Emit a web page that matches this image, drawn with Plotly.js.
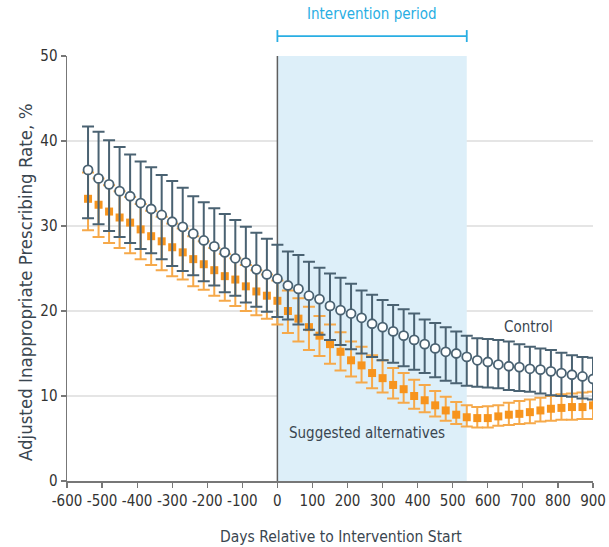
<!DOCTYPE html>
<html>
<head>
<meta charset="utf-8">
<script src="https://cdn.plot.ly/plotly-3.0.1.min.js"></script>
<style>html,body{margin:0;padding:0;background:#fff;}#chart{width:609px;height:547px;}</style>
</head>
<body>
<div id="chart"></div>
<script>
// Days relative to intervention start
var days = [-540,-510,-480,-450,-420,-390,-360,-330,-300,-270,-240,-210,-180,-150,-120,-90,-60,-30,0,
  30,60,90,120,150,180,210,240,270,300,330,360,390,420,450,480,510,540,570,
  600,630,660,690,720,750,780,810,840,870,900];

// Control group
var controlMean = [36.6,35.6,34.9,34.1,33.5,32.7,32.0,31.3,30.5,29.9,29.1,28.3,27.6,26.9,26.2,25.7,24.9,24.3,23.8,
  23.0,22.6,21.8,21.4,20.6,20.1,19.7,19.2,18.5,18.1,17.6,17.1,16.6,16.1,15.6,15.2,15.0,14.6,14.2,
  14.0,13.7,13.5,13.4,13.2,13.1,12.9,12.7,12.5,12.3,12.0];
var controlUpper = [41.7,41.1,40.1,39.3,38.4,37.6,36.9,36.0,35.3,34.5,33.5,32.8,32.1,31.4,30.7,29.9,29.2,28.5,27.8,
  27.0,26.6,25.8,25.1,24.4,23.9,23.2,22.4,21.9,21.3,20.7,20.2,19.7,19.0,18.6,18.1,17.6,17.1,16.8,
  16.7,16.6,16.4,16.1,15.8,15.6,15.4,15.1,14.8,14.6,14.5];
var controlLower = [30.9,30.2,29.4,28.7,28.0,27.3,26.8,26.1,25.3,24.7,24.2,23.5,23.0,22.2,21.8,21.0,20.5,19.9,19.3,
  19.0,18.4,17.8,17.2,16.6,16.0,15.5,15.0,14.6,14.2,13.9,13.5,13.1,12.7,12.2,11.8,11.5,11.2,11.1,
  11.0,10.9,10.7,10.6,10.5,10.3,10.1,10.0,9.9,9.7,9.6];

// Suggested alternatives group
var altMean = [33.2,32.5,31.7,31.0,30.4,29.6,28.8,28.2,27.5,26.9,26.1,25.5,24.8,24.1,23.7,22.9,22.3,21.8,21.2,
  20.0,19.1,18.1,17.1,16.1,15.2,14.2,13.6,12.7,12.1,11.3,10.8,10.0,9.5,8.9,8.3,7.8,7.5,7.4,
  7.4,7.6,7.8,7.9,8.1,8.3,8.5,8.6,8.7,8.7,8.9];
var altUpper = [36.3,35.6,34.8,34.1,33.4,32.6,31.8,31.1,30.3,29.7,28.8,28.2,27.4,26.7,26.2,25.4,24.8,24.3,23.6,
  22.4,21.5,20.5,19.4,18.4,17.5,16.4,15.8,14.8,14.2,13.3,12.7,11.9,11.3,10.6,9.9,9.3,8.9,8.7,
  8.8,8.9,9.2,9.4,9.6,9.8,10.0,10.2,10.3,10.4,10.5];
var altLower = [29.5,28.7,28.0,27.4,26.8,26.1,25.4,24.8,24.1,23.7,22.9,22.5,21.8,21.2,20.6,20.0,19.5,19.1,18.4,
  17.4,16.4,15.4,14.7,13.8,13.0,12.3,11.6,10.9,10.4,9.7,9.2,8.5,8.1,7.6,7.1,6.7,6.4,6.3,
  6.3,6.5,6.6,6.7,6.8,7.0,7.1,7.2,7.2,7.3,7.3];

var xTickVals = [-600,-500,-400,-300,-200,-100,0,100,200,300,400,500,600,700,800,900];
var xTickText = ["-600","-500","-400","-300","-200","-100","0","100","200","300","400","500","600","700","800","900"];
var yTickVals = [0,10,20,30,40,50];
var gridVals = [10,20,30,40];
var interventionStart = 0, interventionEnd = 540;
var labels = {period: "Intervention period", control: "Control", alt: "Suggested alternatives",
  xTitle: "Days Relative to Intervention Start", yTitle: "Adjusted Inappropriate Prescribing Rate, %"};

function diff(a, b) { return a.map(function (v, i) { return +(v - b[i]).toFixed(2); }); }

var FONT = "'Liberation Sans Narrow','DejaVu Sans Condensed','Roboto Condensed',sans-serif";
var CTRL = '#4a6272';
var ALT = '#f7941d';
var ALTBAR = '#f6a94a';
var TXT = '#3a4650';
var BLUE = '#29aee3';

var traces = [
  {
    x: days, y: altMean, type: 'scatter', mode: 'markers', name: labels.alt,
    marker: {symbol: 'square', size: 8, color: ALT},
    error_y: {type: 'data', symmetric: false, array: diff(altUpper, altMean), arrayminus: diff(altMean, altLower),
      color: ALTBAR, thickness: 2, width: 6},
    hoverinfo: 'x+y'
  },
  {
    x: days, y: controlMean, type: 'scatter', mode: 'markers', name: labels.control,
    marker: {symbol: 'circle', size: 9, color: '#ffffff', line: {color: CTRL, width: 1.8}},
    error_y: {type: 'data', symmetric: false, array: diff(controlUpper, controlMean), arrayminus: diff(controlMean, controlLower),
      color: CTRL, thickness: 2, width: 6},
    hoverinfo: 'x+y'
  }
];

var shapes = [
  {type: 'rect', xref: 'x', yref: 'y', x0: interventionStart, x1: interventionEnd, y0: 0, y1: 50,
    fillcolor: '#ddeff9', line: {width: 0}, layer: 'below'}
];
gridVals.forEach(function (g) {
  shapes.push({type: 'line', xref: 'paper', yref: 'y', x0: 0, x1: 1, y0: g, y1: g,
    line: {color: '#dddddd', width: 1.5}, layer: 'below'});
});
shapes.push({type: 'line', xref: 'x', yref: 'y', x0: interventionStart, x1: interventionStart, y0: 0, y1: 50,
  line: {color: '#5e5e5e', width: 1.5}, layer: 'below'});
// intervention period bracket
shapes.push({type: 'line', xref: 'x', yref: 'paper', x0: interventionStart, x1: interventionEnd, y0: 1.047, y1: 1.047,
  line: {color: BLUE, width: 1.8}});
shapes.push({type: 'line', xref: 'x', yref: 'paper', x0: interventionStart, x1: interventionStart, y0: 1.033, y1: 1.061,
  line: {color: BLUE, width: 1.8}});
shapes.push({type: 'line', xref: 'x', yref: 'paper', x0: interventionEnd, x1: interventionEnd, y0: 1.033, y1: 1.061,
  line: {color: BLUE, width: 1.8}});

var layout = {
  width: 609, height: 547,
  margin: {l: 67, r: 16, t: 56, b: 66},
  paper_bgcolor: '#ffffff', plot_bgcolor: 'rgba(0,0,0,0)',
  showlegend: false,
  font: {family: FONT, size: 15, color: TXT},
  xaxis: {
    range: [-600, 900], tickvals: xTickVals, ticktext: xTickText,
    showgrid: false, zeroline: false, showline: true, linecolor: '#777777', linewidth: 1.5,
    ticks: 'outside', ticklen: 5, tickwidth: 1.2, tickcolor: '#777777',
    tickfont: {family: FONT, size: 15, color: '#333333'}
  },
  yaxis: {
    range: [0, 50], tickvals: yTickVals,
    showgrid: false, zeroline: false, showline: true, linecolor: '#777777', linewidth: 1.5,
    ticks: 'outside', ticklen: 5, tickwidth: 1.2, tickcolor: '#777777',
    tickfont: {family: FONT, size: 15, color: '#333333'}
  },
  shapes: shapes,
  annotations: [
    {xref: 'x', yref: 'paper', x: (interventionStart + interventionEnd) / 2, y: 1.073, yanchor: 'bottom',
      text: labels.period, showarrow: false, font: {family: FONT, size: 15, color: BLUE}},
    {xref: 'x', yref: 'y', x: 715, y: 18.1, text: labels.control, showarrow: false,
      font: {family: FONT, size: 15, color: TXT}},
    {xref: 'x', yref: 'y', x: 255, y: 5.7, text: labels.alt, showarrow: false,
      font: {family: FONT, size: 15, color: TXT}},
    {xref: 'paper', yref: 'paper', x: 0.521, y: 0, xanchor: 'center', yanchor: 'middle', yshift: -56,
      text: labels.xTitle, showarrow: false, font: {family: FONT, size: 15.5, color: TXT}},
    {xref: 'paper', yref: 'paper', x: 0, y: 0.468, xanchor: 'center', yanchor: 'middle', xshift: -42,
      textangle: -90, text: labels.yTitle, showarrow: false, font: {family: FONT, size: 18.5, color: TXT}}
  ]
};

Plotly.newPlot('chart', traces, layout, {displayModeBar: false, staticPlot: true});
</script>
</body>
</html>
